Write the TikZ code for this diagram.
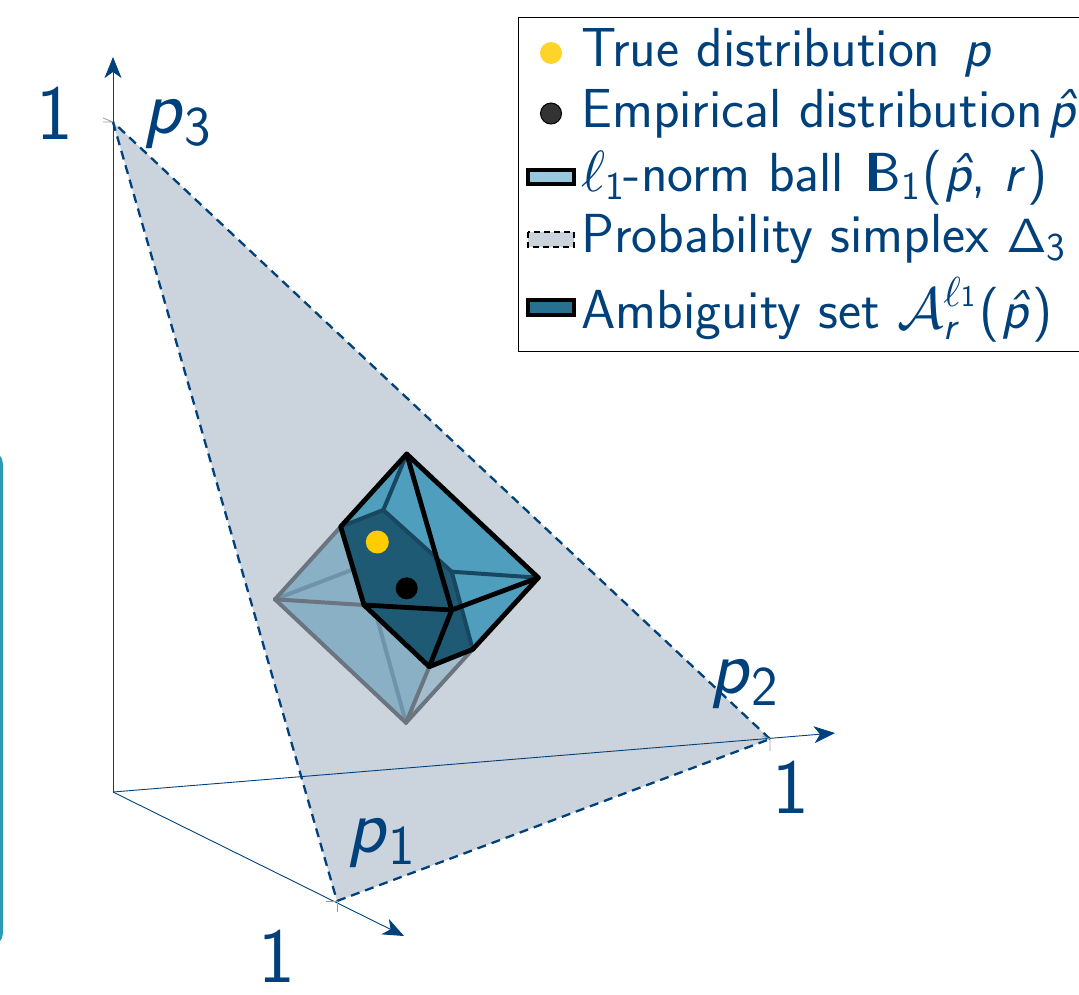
\documentclass[tikz,border=0pt]{standalone}
\usetikzlibrary{arrows.meta}
\definecolor{navy}{HTML}{00417C}
\definecolor{simplex}{HTML}{CBD3DD}
\definecolor{upper}{HTML}{4F9EBD}
\definecolor{lowerA}{HTML}{8AB0C6}
\definecolor{lowerB}{HTML}{A3BDCD}
\definecolor{hexa}{HTML}{1F5A75}
\definecolor{hexedge}{HTML}{17485F}
\definecolor{grayedge}{HTML}{6A7580}
\definecolor{faintedge}{HTML}{6F93A8}
\definecolor{tealbar}{HTML}{2E9AB5}
\newcommand{\pp}{\textit{p}}
\newcommand{\hp}{\textit{\^{p}}}
\newcommand{\sbs}[1]{\raisebox{-.16em}{\scalebox{.72}{#1}}}
\newcommand{\bm}[2]{\scalebox{#1}{\fontsize{10}{12}\selectfont$#2$}}
\newcommand{\bbB}{\rlap{\kern.05em\rule{.13em}{.69em}}B}
\tikzset{
  x=1pt,y=-1pt,
  axisline/.style={navy,line width=0.9pt,-{Stealth[length=21pt,width=17pt,inset=6pt]}},
  tickline/.style={gray!80,line width=0.8pt},
  simplexedge/.style={navy,line width=2.3pt,dash pattern=on 9pt off 6pt},
  black edge/.style={black,line width=4.8pt,line cap=round,line join=round},
  back edge/.style={hexedge,line width=4pt,line cap=round},
  gray edge/.style={grayedge,line width=4pt,line cap=round},
  faint edge/.style={faintedge,line width=4pt,line cap=round},
  biglabel/.style={navy,inner sep=0pt,anchor=base,font=\sffamily\fontsize{78}{78}\selectfont},
  legendtext/.style={navy,inner sep=0pt,anchor=base west,font=\sffamily\fontsize{55}{55}\selectfont},
  swatch/.style={draw=black,line width=4pt},
}
\begin{document}
\begin{tikzpicture}
\useasboundingbox (0,0) rectangle (1079,994);
\coordinate (O) at (113,792);
\coordinate (Xe) at (404,936);
\coordinate (Ye) at (835,733);
\coordinate (Ze) at (113,57);
\coordinate (S1) at (337,901);
\coordinate (S2) at (770,739);
\coordinate (S3) at (113,122);
\coordinate (T) at (406.7,454);
\coordinate (R) at (538.3,577.7);
\coordinate (Bo) at (406,722.7);
\coordinate (L) at (275,599.3);
\coordinate (F) at (451.7,610);
\coordinate (Ha) at (340.7,526.7);
\coordinate (Hb) at (383.3,510);
\coordinate (Hc) at (451.7,571.7);
\coordinate (Hd) at (472.7,649.3);
\coordinate (He) at (429.3,666.7);
\coordinate (Hf) at (364,605);
\coordinate (Fa) at (351.6,570);
\coordinate (Fb) at (376.7,617);
% left bar
\begin{scope}
\clip (0,0) rectangle (1079,994);
\fill[tealbar,rounded corners=11pt] (-20,452) rectangle (2.8,945);
\end{scope}
\draw[axisline] (O) -- (Ze);
\draw[axisline] (O) -- (Xe);
\fill[simplex] (S1) -- (S2) -- (S3) -- cycle;
\draw[simplexedge] (S1) -- (S2);
\draw[simplexedge] (S2) -- (S3);
\draw[simplexedge] (S3) -- (S1);
\draw[axisline] (O) -- (Ye);
\draw[tickline] (S3) -- +(-10,-4) (S3) -- +(-10,0);
\draw[tickline] (S1) -- +(-11,0) (S1) -- +(0,11);
\draw[tickline] (S2) -- +(0,12) (S2) -- +(-8,-3);
% lower part of octahedron
\fill[lowerA] (L) -- (Ha) -- (Hf) -- (He) -- (Bo) -- cycle;
\fill[lowerB] (He) -- (Hd) -- (Bo) -- cycle;
\draw[faint edge] (L) -- (Fa);
\draw[faint edge] (Bo) -- (Fb);
\draw[gray edge] (L) -- (Ha);
\draw[gray edge] (L) -- (Hf);
\draw[gray edge] (L) -- (Bo);
\draw[gray edge] (Bo) -- (He);
\draw[gray edge] (Bo) -- (Hd);
% upper part
\fill[upper] (T) -- (R) -- (Hd) -- (Hc) -- (Hb) -- (Ha) -- cycle;
\fill[hexa] (Ha) -- (Hb) -- (Hc) -- (Hd) -- (He) -- (Hf) -- cycle;
\draw[back edge] (T) -- (Hb);
\draw[back edge] (R) -- (Hc);
\draw[back edge] (Ha) -- (Hb);
\draw[back edge] (Hb) -- (Hc);
\draw[back edge] (Hc) -- (Hd);
\draw[black edge] (Ha) -- (T) -- (R) -- (Hd) -- (He) -- (Hf) -- cycle;
\draw[black edge] (T) -- (F);
\draw[black edge] (R) -- (F);
\draw[black edge] (Hf) -- (F);
\draw[black edge] (He) -- (F);
\fill[color={rgb,255:red,255;green,204;blue,0}] (377.3,542) circle (11.5);
\fill[black] (406.7,588.3) circle (11);
\node[biglabel] (one3) at (55,139) {1};
\node[biglabel] (lab3) at (177,133) {\pp\sbs{3}};
\node[biglabel] (one1) at (277,982) {1};
\node[biglabel] (lab1) at (381,852) {\pp\sbs{1}};
\node[biglabel] (one2) at (791,813) {1};
\node[biglabel] (lab2) at (744,693) {\pp\sbs{2}};
\begin{scope}
\clip (0,0) rectangle (1079,994);
\draw[black,line width=1pt,fill=white] (518.5,17) rectangle (1090,351);
\fill[color={rgb,255:red,255;green,212;blue,42}] (551,53) circle (11);
\draw[black,line width=1pt,fill=black!80] (551,113.5) circle (10.5);
\draw[swatch,fill={rgb,255:red,151;green,200;blue,222}] (528,170) rectangle (574,184);
\fill[simplex] (528,232) rectangle (574,247);
\draw[black,line width=2pt,dash pattern=on 6pt off 4pt] (528,232) rectangle (574,247);
\draw[swatch,fill={rgb,255:red,40;green,112;blue,144}] (528,300) rectangle (574,315);
\node[legendtext] (t1) at (581,66) {True distribution \kern.1em\pp};
\node[legendtext] (t2) at (581,127) {Empirical distribution\kern.1em\hp};
\node[legendtext] (t3) at (581,191) {\bm{5.8}{\ell}\sbs{1}-norm ball \kern.1em\bbB\sbs{1}\kern.05em(\kern.04em\hp, \textit{r}\kern.05em)};
\node[legendtext] (t4) at (581,252) {Probability simplex \bm{4.8}{\mathsf{\Delta}}\sbs{3}};
\node[legendtext] (t5) at (581,328) {Ambiguity set \bm{5.8}{\mathcal{A}}\rlap{\raisebox{-.2em}{\scalebox{.72}{\textit{r}}}}\raisebox{.4em}{\bm{4.2}{\ell}\scalebox{.55}{1}}\kern.08em(\kern.04em\hp\kern.04em)};
\end{scope}
\end{tikzpicture}
\end{document}
